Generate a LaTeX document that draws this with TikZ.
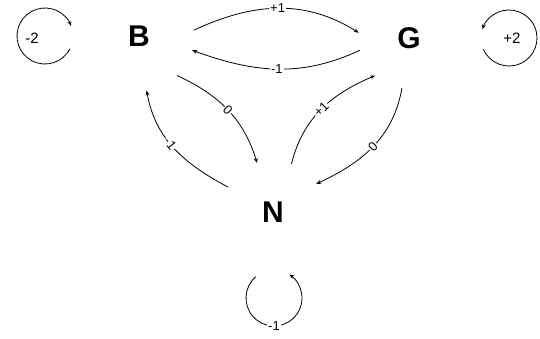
\documentclass[tikz,border=0pt]{standalone}
\usepackage{fontspec}
\setmainfont{Liberation Sans}
\usepackage{tikz}
\usetikzlibrary{arrows.meta}

\begin{document}
\begin{tikzpicture}[x=1pt, y=1pt, line width=0.8pt,
        state/.style={circle, inner sep=0pt, outer sep=0pt, font=\fontsize{30}{30}\selectfont\bfseries},
        wt/.style={fill=white, inner sep=1pt, font=\fontsize{13}{13}\selectfont},
        loopwt/.style={inner sep=1pt, font=\fontsize{15}{15}\selectfont},
        link/.style={-{Stealth[length=5pt, width=4pt]}}]
        \useasboundingbox (0,0) rectangle (540,338);

        % The three states
        \node[state, minimum size=110pt] (B) at (139,302) {B};
        \node[state, minimum size=101pt] (G) at (409,300) {G};
        \node[state, minimum size=103pt] (N) at (273,126) {N};

        % B and G
        \draw[link] (B.6) to[out=25, in=148] node[wt] {+1} (G.174);
        \draw[link] (G.194) to[out=205, in=-20] node[wt] {-1} (B.-15);

        % B and N
        \draw[link] (B.-46) to[out=-25, in=107] node[wt, sloped] {0} (N.108);
        \draw[link] (N.151) to[out=152, in=280] node[wt, sloped, pos=0.55] {-1} (B.-82);

        % G and N
        \draw[link] (N.69) to[out=76, in=203] node[wt, sloped] {+1} (G.228);
        \draw[link] (G.262) to[out=260, in=25] node[wt, sloped] {0} (N.33);

        % Self loops
        \coordinate (Bloop) at (45,302);
        \coordinate (Gloop) at (509,300);
        \coordinate (Nloop) at (274,40);
        \draw[link] (Bloop) ++(-27:28) arc[start angle=-27, end angle=-339, radius=28];
        \node[loopwt] (Bw) at ([xshift=-13pt, yshift=-2pt]Bloop) {-2};
        \draw[link] (Gloop) ++(204:28) arc[start angle=204, end angle=522, radius=28];
        \node[loopwt] (Gw) at ([xshift=3pt]Gloop) {+2};
        \draw[link] (Nloop) ++(131:28) arc[start angle=131, end angle=417, radius=28];
        \node[wt] (Nw) at ([yshift=-28pt]Nloop) {-1};
\end{tikzpicture}
\end{document}
